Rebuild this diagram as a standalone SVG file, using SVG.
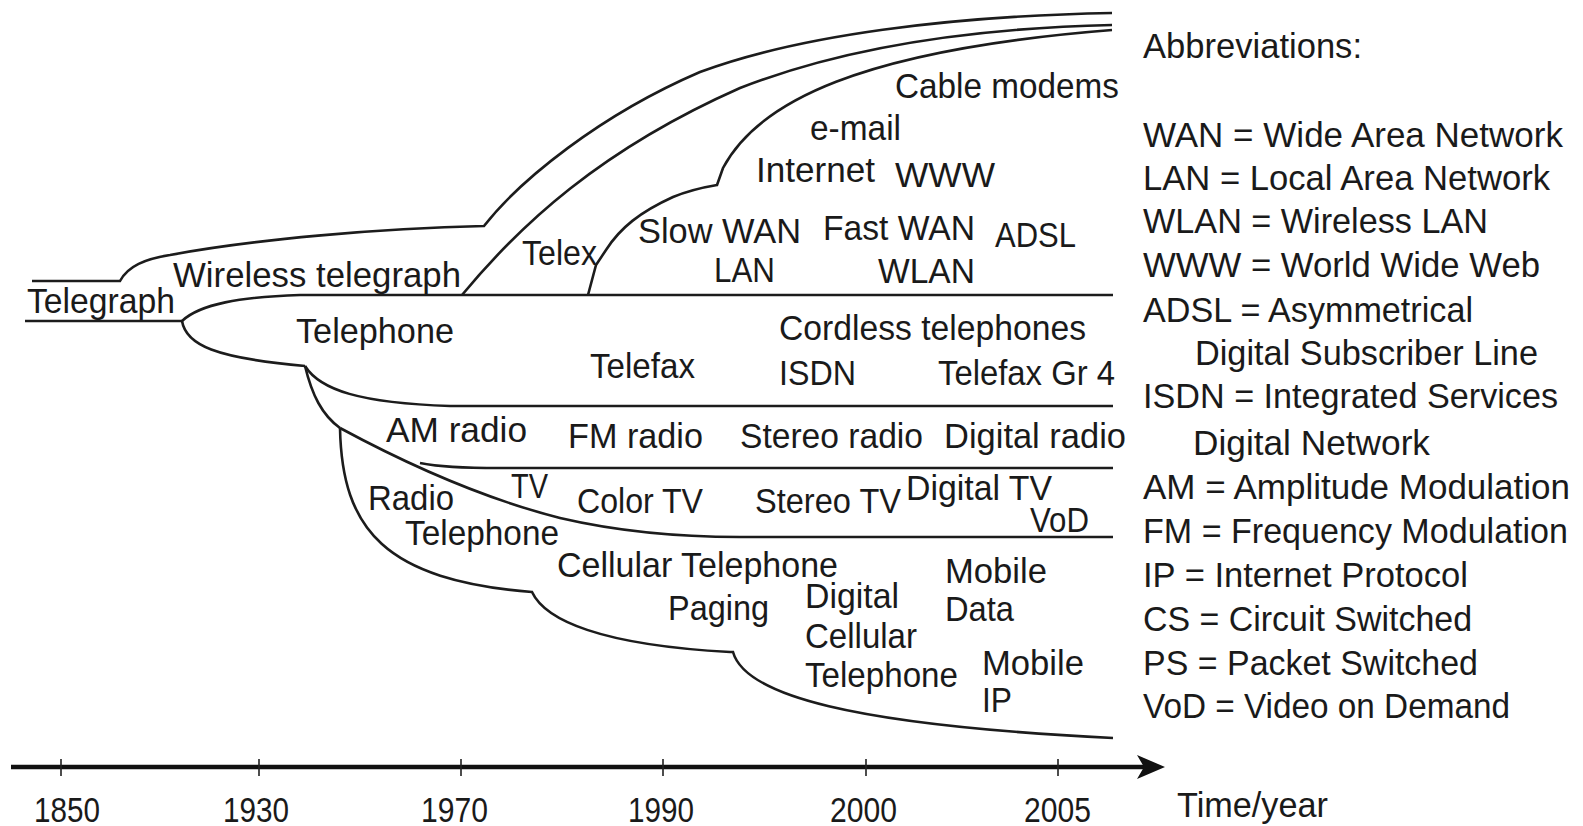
<svg xmlns="http://www.w3.org/2000/svg" width="1583" height="826" viewBox="0 0 1583 826">
<style>
.ln{fill:none;stroke:#1c1c1c;stroke-width:2.6;stroke-linejoin:miter;stroke-linecap:butt}
.ax{fill:none;stroke:#111;stroke-width:4.5}
.tk{fill:none;stroke:#222;stroke-width:1.6}
.t{font-family:"Liberation Sans",Arial,Helvetica,sans-serif;font-size:35px;fill:#1a1a1a}
</style>
<defs>
<marker id="arr" markerUnits="userSpaceOnUse" markerWidth="30" markerHeight="26" refX="7" refY="12" orient="auto">
<path d="M0,0 L28,12 L0,24 L7,12 Z" fill="#111"/>
</marker>
</defs>
<rect width="1583" height="826" fill="#fff"/>
<g id="connectors">
<path class="ln" d="M32,281 H120 C128,266 145,259 170,255 C250,240 380,228 484,226 C520,180 600,115 700,72 C800,35 950,16 1112,13"/>
<path class="ln" d="M462,295 C520,225 600,150 740,88 C850,45 980,28 1112,25"/>
<path class="ln" d="M588,295 L596,265 L606,250 C620,228 640,212 673,197 C690,190 705,187 717,185 L723,168 C758,102 860,50 1112,30"/>
<path class="ln" d="M25,321 H182"/>
<path class="ln" d="M182,321 C200,304 240,297 300,295 H1113"/>
<path class="ln" d="M182,321 C186,345 215,358 305,366"/>
<path class="ln" d="M305,366 C320,390 360,403 450,406 H1113"/>
<path class="ln" d="M305,366 C312,395 322,415 340,428"/>
<path class="ln" d="M340,428 C390,455 470,495 560,518 C620,532 680,537 740,537 H1113"/>
<path class="ln" d="M420,463 C440,467 460,468 500,468 H1113"/>
<path class="ln" d="M340,428 C342,530 385,580 532,592 C545,620 600,645 730,652 L733,652 C745,695 850,725 1113,738"/>
<path class="ax" d="M11,767 H1144" marker-end="url(#arr)"/>
<path class="tk" d="M61,759 V776 M259,759 V776 M461,759 V776 M663,759 V776 M866,759 V776 M1058,759 V776"/>
</g>
<g id="telegraph"><text class="t" x="27" y="313" textLength="148" lengthAdjust="spacingAndGlyphs">Telegraph</text></g>
<g id="wireless-telegraph"><text class="t" x="173" y="287" textLength="288" lengthAdjust="spacingAndGlyphs">Wireless telegraph</text></g>
<g id="telephone"><text class="t" x="296" y="343" textLength="158" lengthAdjust="spacingAndGlyphs">Telephone</text></g>
<g id="telex"><text class="t" x="522" y="265" textLength="75" lengthAdjust="spacingAndGlyphs">Telex</text></g>
<g id="slow-wan"><text class="t" x="638" y="243" textLength="163" lengthAdjust="spacingAndGlyphs">Slow WAN</text><text class="t" x="714" y="282" textLength="61" lengthAdjust="spacingAndGlyphs">LAN</text></g>
<g id="fast-wan"><text class="t" x="823" y="240" textLength="152" lengthAdjust="spacingAndGlyphs">Fast WAN</text><text class="t" x="878" y="283" textLength="97" lengthAdjust="spacingAndGlyphs">WLAN</text></g>
<g id="adsl"><text class="t" x="995" y="247" textLength="81" lengthAdjust="spacingAndGlyphs">ADSL</text></g>
<g id="internet"><text class="t" x="756" y="182" textLength="119" lengthAdjust="spacingAndGlyphs">Internet</text></g>
<g id="www"><text class="t" x="895" y="187" textLength="100" lengthAdjust="spacingAndGlyphs">WWW</text></g>
<g id="email"><text class="t" x="810" y="140" textLength="91" lengthAdjust="spacingAndGlyphs">e-mail</text></g>
<g id="cable-modems"><text class="t" x="895" y="98" textLength="224" lengthAdjust="spacingAndGlyphs">Cable modems</text></g>
<g id="cordless"><text class="t" x="779" y="340" textLength="307" lengthAdjust="spacingAndGlyphs">Cordless telephones</text></g>
<g id="telefax"><text class="t" x="590" y="378" textLength="105" lengthAdjust="spacingAndGlyphs">Telefax</text></g>
<g id="isdn"><text class="t" x="779" y="385" textLength="77" lengthAdjust="spacingAndGlyphs">ISDN</text></g>
<g id="telefax-gr4"><text class="t" x="938" y="385" textLength="177" lengthAdjust="spacingAndGlyphs">Telefax Gr 4</text></g>
<g id="am-radio"><text class="t" x="386" y="442" textLength="141" lengthAdjust="spacingAndGlyphs">AM radio</text></g>
<g id="fm-radio"><text class="t" x="568" y="448" textLength="135" lengthAdjust="spacingAndGlyphs">FM radio</text></g>
<g id="stereo-radio"><text class="t" x="740" y="448" textLength="183" lengthAdjust="spacingAndGlyphs">Stereo radio</text></g>
<g id="digital-radio"><text class="t" x="944" y="448" textLength="182" lengthAdjust="spacingAndGlyphs">Digital radio</text></g>
<g id="tv"><text class="t" x="511" y="498" textLength="37" lengthAdjust="spacingAndGlyphs">TV</text></g>
<g id="radio-telephone"><text class="t" x="368" y="510" textLength="86" lengthAdjust="spacingAndGlyphs">Radio</text><text class="t" x="405" y="545" textLength="154" lengthAdjust="spacingAndGlyphs">Telephone</text></g>
<g id="color-tv"><text class="t" x="577" y="513" textLength="126" lengthAdjust="spacingAndGlyphs">Color TV</text></g>
<g id="stereo-tv"><text class="t" x="755" y="513" textLength="146" lengthAdjust="spacingAndGlyphs">Stereo TV</text></g>
<g id="digital-tv"><text class="t" x="906" y="500" textLength="146" lengthAdjust="spacingAndGlyphs">Digital TV</text></g>
<g id="vod"><text class="t" x="1030" y="532" textLength="59" lengthAdjust="spacingAndGlyphs">VoD</text></g>
<g id="cellular-telephone"><text class="t" x="557" y="577" textLength="281" lengthAdjust="spacingAndGlyphs">Cellular Telephone</text></g>
<g id="mobile-data"><text class="t" x="945" y="583" textLength="102" lengthAdjust="spacingAndGlyphs">Mobile</text><text class="t" x="945" y="621" textLength="69" lengthAdjust="spacingAndGlyphs">Data</text></g>
<g id="paging"><text class="t" x="668" y="620" textLength="101" lengthAdjust="spacingAndGlyphs">Paging</text></g>
<g id="digital-cellular"><text class="t" x="805" y="608" textLength="94" lengthAdjust="spacingAndGlyphs">Digital</text><text class="t" x="805" y="648" textLength="112" lengthAdjust="spacingAndGlyphs">Cellular</text><text class="t" x="805" y="687" textLength="153" lengthAdjust="spacingAndGlyphs">Telephone</text></g>
<g id="mobile-ip"><text class="t" x="982" y="675" textLength="102" lengthAdjust="spacingAndGlyphs">Mobile</text><text class="t" x="982" y="712" textLength="30" lengthAdjust="spacingAndGlyphs">IP</text></g>
<g id="axis-labels">
<text class="t" x="34" y="822" textLength="66" lengthAdjust="spacingAndGlyphs">1850</text>
<text class="t" x="223" y="822" textLength="66" lengthAdjust="spacingAndGlyphs">1930</text>
<text class="t" x="421" y="822" textLength="67" lengthAdjust="spacingAndGlyphs">1970</text>
<text class="t" x="628" y="822" textLength="66" lengthAdjust="spacingAndGlyphs">1990</text>
<text class="t" x="830" y="822" textLength="67" lengthAdjust="spacingAndGlyphs">2000</text>
<text class="t" x="1024" y="822" textLength="67" lengthAdjust="spacingAndGlyphs">2005</text>
<text class="t" x="1177" y="817" textLength="151" lengthAdjust="spacingAndGlyphs">Time/year</text>
</g>
<g id="abbreviations">
<text class="t" x="1143" y="58" textLength="219" lengthAdjust="spacingAndGlyphs">Abbreviations:</text>
<text class="t" x="1143" y="147" textLength="420" lengthAdjust="spacingAndGlyphs">WAN = Wide Area Network</text>
<text class="t" x="1143" y="190" textLength="407" lengthAdjust="spacingAndGlyphs">LAN = Local Area Network</text>
<text class="t" x="1143" y="233" textLength="345" lengthAdjust="spacingAndGlyphs">WLAN = Wireless LAN</text>
<text class="t" x="1143" y="277" textLength="397" lengthAdjust="spacingAndGlyphs">WWW = World Wide Web</text>
<text class="t" x="1143" y="322" textLength="330" lengthAdjust="spacingAndGlyphs">ADSL = Asymmetrical</text>
<text class="t" x="1195" y="365" textLength="343" lengthAdjust="spacingAndGlyphs">Digital Subscriber Line</text>
<text class="t" x="1143" y="408" textLength="415" lengthAdjust="spacingAndGlyphs">ISDN = Integrated Services</text>
<text class="t" x="1193" y="455" textLength="237" lengthAdjust="spacingAndGlyphs">Digital Network</text>
<text class="t" x="1143" y="499" textLength="427" lengthAdjust="spacingAndGlyphs">AM = Amplitude Modulation</text>
<text class="t" x="1143" y="543" textLength="425" lengthAdjust="spacingAndGlyphs">FM = Frequency Modulation</text>
<text class="t" x="1143" y="587" textLength="325" lengthAdjust="spacingAndGlyphs">IP = Internet Protocol</text>
<text class="t" x="1143" y="631" textLength="329" lengthAdjust="spacingAndGlyphs">CS = Circuit Switched</text>
<text class="t" x="1143" y="675" textLength="335" lengthAdjust="spacingAndGlyphs">PS = Packet Switched</text>
<text class="t" x="1143" y="718" textLength="367" lengthAdjust="spacingAndGlyphs">VoD = Video on Demand</text>
</g>
</svg>
